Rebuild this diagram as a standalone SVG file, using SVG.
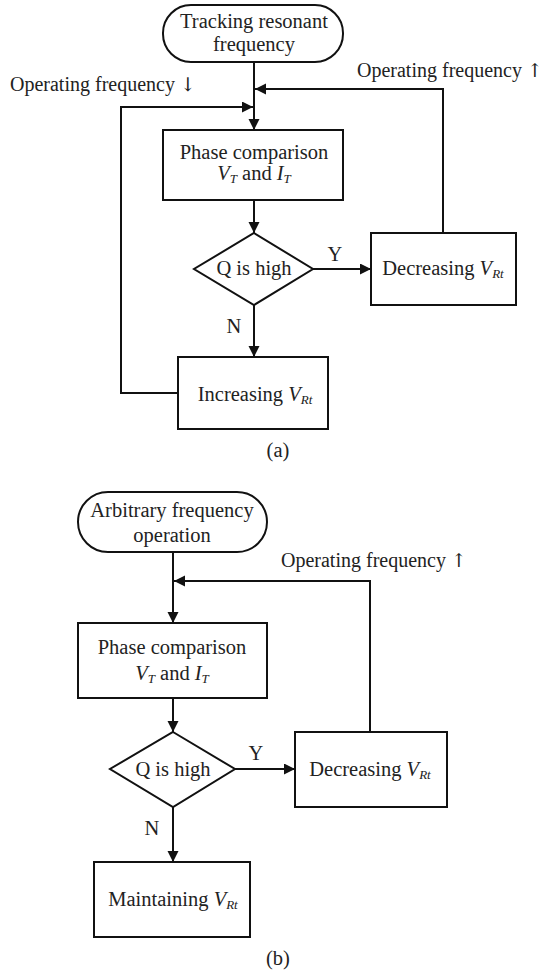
<svg xmlns="http://www.w3.org/2000/svg" width="541" height="974" viewBox="0 0 541 974">
<defs>
<marker id="ah" markerUnits="userSpaceOnUse" markerWidth="12" markerHeight="12" refX="11" refY="5.5" orient="auto">
<path d="M0,0 L11,5.5 L0,11 z" fill="#111"/>
</marker>
<style>
.n{fill:#fff;stroke:#111;stroke-width:2}
.a{fill:none;stroke:#111;stroke-width:2;marker-end:url(#ah)}
text{font-family:"Liberation Serif","Times New Roman",serif;font-size:20.5px;fill:#222}
.m{text-anchor:middle}
.i{font-style:italic}
.s{font-style:italic;font-size:13px}
.l{font-size:20px}
.ar{font-family:"DejaVu Serif",serif;font-size:19px}
</style>
</defs>
<rect width="541" height="974" fill="#fff"/>

<g id="connectors">
<!-- (a) -->
<path class="a" d="M254,62 V130"/>
<path class="a" d="M443,233 V89 H255"/>
<path class="a" d="M178,393 H121 V107 H253"/>
<path class="a" d="M254,200 V233"/>
<path class="a" d="M313,269 H371"/>
<path class="a" d="M254,305 V357"/>
<!-- (b) -->
<path class="a" d="M173,552 V623"/>
<path class="a" d="M370,732 V581 H174"/>
<path class="a" d="M173,698 V732"/>
<path class="a" d="M235,769 H295"/>
<path class="a" d="M173,807 V862"/>
</g>

<g id="a-start">
<rect class="n" x="163" y="5" width="180" height="57" rx="28"/>
<text class="m" x="254" y="28">Tracking resonant</text>
<text class="m" x="254" y="51">frequency</text>
</g>
<g id="a-phase">
<rect class="n" x="163" y="130" width="180" height="70"/>
<text class="m" x="254" y="159">Phase comparison</text>
<text class="m" x="254" y="180"><tspan class="i">V</tspan><tspan class="s" dy="3">T</tspan><tspan dy="-3"> and </tspan><tspan class="i">I</tspan><tspan class="s" dy="3">T</tspan></text>
</g>
<g id="a-q">
<path class="n" d="M254,233 L313,269 L254,305 L194,269 z"/>
<text class="m" x="254" y="275">Q is high</text>
</g>
<g id="a-dec">
<rect class="n" x="371" y="233" width="145" height="72"/>
<text class="m" x="443" y="275">Decreasing <tspan class="i">V</tspan><tspan class="s" dy="3">Rt</tspan></text>
</g>
<g id="a-inc">
<rect class="n" x="178" y="357" width="150" height="72"/>
<text class="m" x="255" y="401">Increasing <tspan class="i">V</tspan><tspan class="s" dy="3">Rt</tspan></text>
</g>
<g id="a-labels">
<text class="l" x="357" y="77">Operating frequency <tspan class="ar">↑</tspan></text>
<text class="l" x="10" y="91">Operating frequency <tspan class="ar">↓</tspan></text>
<text class="m" x="335" y="261">Y</text>
<text class="m" x="234" y="333">N</text>
<text class="m" x="278" y="457">(a)</text>
</g>

<g id="b-start">
<rect class="n" x="78" y="492" width="189" height="60" rx="30"/>
<text class="m" x="172" y="517">Arbitrary frequency</text>
<text class="m" x="172" y="542">operation</text>
</g>
<g id="b-phase">
<rect class="n" x="78" y="623" width="189" height="75"/>
<text class="m" x="172" y="654">Phase comparison</text>
<text class="m" x="172" y="680"><tspan class="i">V</tspan><tspan class="s" dy="3">T</tspan><tspan dy="-3"> and </tspan><tspan class="i">I</tspan><tspan class="s" dy="3">T</tspan></text>
</g>
<g id="b-q">
<path class="n" d="M173,732 L235,769 L173,807 L110,769 z"/>
<text class="m" x="173" y="776">Q is high</text>
</g>
<g id="b-dec">
<rect class="n" x="295" y="732" width="152" height="75"/>
<text class="m" x="370" y="776">Decreasing <tspan class="i">V</tspan><tspan class="s" dy="3">Rt</tspan></text>
</g>
<g id="b-main">
<rect class="n" x="94" y="862" width="156" height="75"/>
<text class="m" x="173" y="906">Maintaining <tspan class="i">V</tspan><tspan class="s" dy="3">Rt</tspan></text>
</g>
<g id="b-labels">
<text class="l" x="281" y="567">Operating frequency <tspan class="ar">↑</tspan></text>
<text class="m" x="256" y="760">Y</text>
<text class="m" x="152" y="835">N</text>
<text class="m" x="278" y="965">(b)</text>
</g>
</svg>
